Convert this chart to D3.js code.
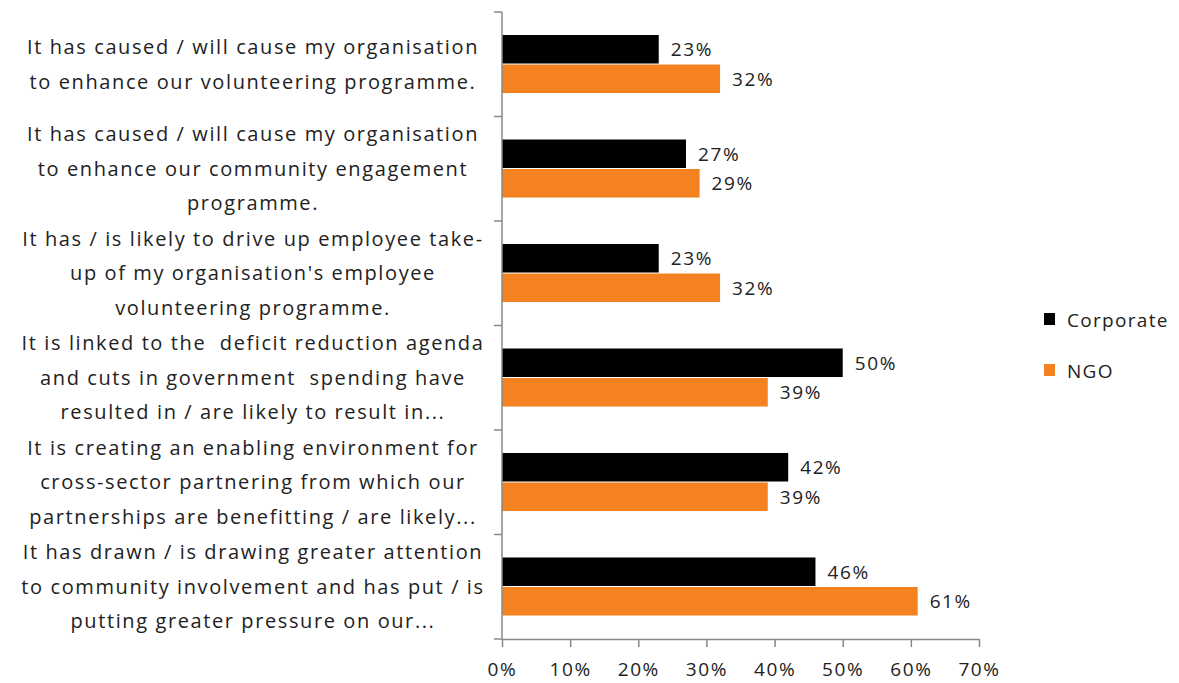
<!DOCTYPE html>
<html><head><meta charset="utf-8">
<script src="https://cdn.jsdelivr.net/npm/d3@7"></script>
<style>body{margin:0;background:#fff}</style>
</head><body>
<svg id="chart" width="1179" height="683"></svg>
<script>
const categories = [
  ["It has caused / will cause my organisation","to enhance our volunteering programme."],
  ["It has caused / will cause my organisation","to enhance our community engagement","programme."],
  ["It has / is likely to drive up employee take-","up of my organisation's employee","volunteering programme."],
  ["It is linked to the  deficit reduction agenda","and cuts in government  spending have","resulted in / are likely to result in..."],
  ["It is creating an enabling environment for","cross-sector partnering from which our","partnerships are benefitting / are likely..."],
  ["It has drawn / is drawing greater attention","to community involvement and has put / is","putting greater pressure on our..."]
];
const seriesNames = ["Corporate","NGO"];
const corporate = [23,27,23,50,42,46];
const ngo = [32,29,32,39,39,61];
const xTicks = [0,10,20,30,40,50,60,70];
const colors = {Corporate:"#000000", NGO:"#F58220"};

(function(){
const svg = d3.select("#chart");
const font = "'Open Sans', sans-serif";
const pLeft = 502, pRight = 979, pTop = 12, pBottom = 639;
const x = d3.scaleLinear().domain([0,70]).range([pLeft,pRight]);
const idx = d3.range(categories.length);
const y0 = d3.scaleBand().domain(idx).range([pTop,pBottom]).padding(0);
const step = y0.step();
const y1 = d3.scaleBand().domain(seriesNames).range([step*0.22, step*0.785]).padding(0);
const data = idx.map(i => ({i, vals:[{s:"Corporate",v:corporate[i]},{s:"NGO",v:ngo[i]}]}));

const g = svg.append("g");
const groups = g.selectAll("g.cat").data(data).join("g")
  .attr("transform", d => `translate(0,${y0(d.i)})`);
groups.selectAll("rect").data(d => d.vals).join("rect")
  .attr("x", x(0)).attr("y", d => y1(d.s))
  .attr("width", d => x(d.v) - x(0)).attr("height", y1.bandwidth() - 1)
  .attr("fill", d => colors[d.s]);
groups.selectAll("text").data(d => d.vals).join("text")
  .attr("x", d => x(d.v) + 12).attr("y", d => y1(d.s) + y1.bandwidth()/2)
  .attr("dy","0.35em").attr("font-family",font).attr("font-size",19)
  .attr("letter-spacing",1.6).attr("fill","#222").text(d => d.v + "%");

const xAxis = svg.append("g").attr("transform",`translate(0,${pBottom})`)
  .call(d3.axisBottom(x).tickValues(xTicks).tickFormat(d => d + "%").tickSize(8).tickSizeOuter(0));
xAxis.select(".domain").attr("stroke","#888").attr("stroke-width",1.5);
xAxis.selectAll(".tick line").attr("stroke","#888").attr("stroke-width",1.5);
xAxis.selectAll(".tick text").attr("font-family",font).attr("font-size",19)
  .attr("letter-spacing",1.6).attr("fill","#222").attr("y",30).attr("dy","0.35em");

svg.append("line").attr("x1",pLeft).attr("x2",pLeft).attr("y1",pTop).attr("y2",pBottom)
  .attr("stroke","#888").attr("stroke-width",1.5);
const bounds = idx.map(i => y0(i)).concat([pBottom]);
svg.selectAll("line.yt").data(bounds).join("line").attr("class","yt")
  .attr("x1",pLeft-8).attr("x2",pLeft).attr("y1",d=>d).attr("y2",d=>d)
  .attr("stroke","#888").attr("stroke-width",1.5);

const lab = svg.append("g");
data.forEach(d => {
  const lines = categories[d.i];
  const cy = y0(d.i) + step/2;
  const lh = 34.5;
  const t = lab.append("text").attr("text-anchor","middle").attr("font-family",font)
    .attr("font-size",20).attr("letter-spacing",1.6).attr("fill","#222").style("white-space","pre");
  lines.forEach((ln,k) => {
    t.append("tspan").attr("x",253).attr("y", cy + (k - (lines.length-1)/2)*lh).attr("dy","0.35em")
      .text(ln);
  });
});

const leg = svg.append("g");
seriesNames.forEach((s,k) => {
  const ly = 320 + k*51;
  leg.append("rect").attr("x",1044).attr("y",ly-7).attr("width",11).attr("height",12).attr("fill",colors[s]);
  leg.append("text").attr("x",1067).attr("y",ly).attr("dy","0.35em").attr("font-family",font)
    .attr("font-size",19).attr("letter-spacing",1.3).attr("fill","#222").text(s);
});
})();
</script>
</body></html>
